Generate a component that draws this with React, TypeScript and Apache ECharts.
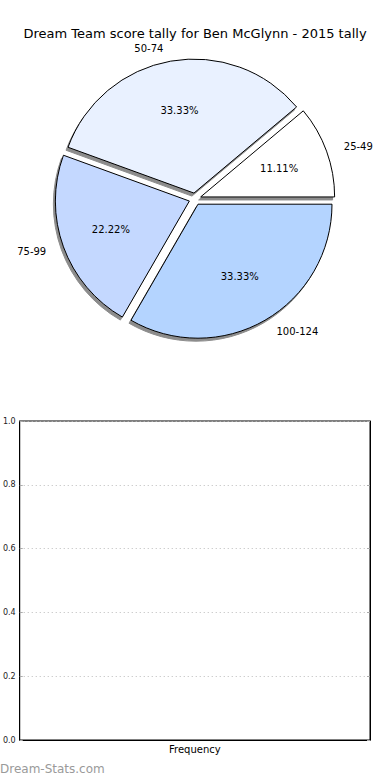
import React, { useEffect, useRef } from "react";
import * as echarts from "echarts";

const categories = ["25-49", "50-74", "75-99", "100-124"];
const counts = [1, 3, 2, 3];
const sliceColors = ["#ffffff", "#e9f1ff", "#c4d8ff", "#b4d4ff"];
const yTicks = [0, 0.2, 0.4, 0.6, 0.8, 1.0];
const titleText = "Dream Team score tally for Ben McGlynn - 2015 tally";
const xName = "Frequency";
const watermark = "Dream-Stats.com";

const FONT = "DejaVu Sans";

export default function App() {
  const ref = useRef<HTMLDivElement>(null);
  useEffect(() => {
    document.body.style.margin = "0";
    const chart = echarts.init(ref.current!, null, { renderer: "svg" });
    const total = counts.reduce((a, b) => a + b, 0);
    const pieData = categories.map((name, i) => ({
      name,
      value: counts[i],
      selected: true,
      itemStyle: { color: sliceColors[i] },
    }));
    const common = {
      type: "pie",
      center: [195, 199],
      startAngle: 0,
      clockwise: false,
      selectedMode: "multiple",
      selectedOffset: 6,
      avoidLabelOverlap: false,
      silent: true,
      emphasis: { disabled: true },
    };
    chart.setOption({
      animation: false,
      title: {
        text: titleText,
        left: "center",
        top: 22,
        textStyle: { fontFamily: FONT, fontSize: 13, fontWeight: "normal", color: "#000" },
      },
      grid: {
        left: 19,
        right: 20,
        top: 421,
        bottom: 40,
        show: true,
        borderColor: "#000",
        borderWidth: 1,
        backgroundColor: "transparent",
      },
      xAxis: {
        type: "value",
        min: 0,
        max: 1,
        name: xName,
        nameLocation: "middle",
        nameGap: 4,
        nameTextStyle: { fontFamily: FONT, fontSize: 10, color: "#000" },
        axisLine: { show: true, lineStyle: { color: "#000" } },
        axisTick: { show: false },
        axisLabel: { show: false },
        splitLine: { show: false },
      },
      yAxis: [
        {
          type: "value",
          min: 0,
          max: 1,
          interval: 0.2,
          axisLine: { show: true, lineStyle: { color: "#000" } },
          axisTick: { show: true, inside: true, length: 3, lineStyle: { color: "#aaa" } },
          axisLabel: {
            fontFamily: FONT,
            fontSize: 8,
            color: "#222",
            margin: 4,
            formatter: (v: number) => (yTicks.includes(Math.round(v * 10) / 10) ? v.toFixed(1) : ""),
          },
          splitLine: { show: true, lineStyle: { color: "#bbb", type: [1, 3], width: 1 } },
        },
        {
          type: "value",
          min: 0,
          max: 1,
          interval: 0.2,
          position: "right",
          axisLine: { show: true, lineStyle: { color: "#000" } },
          axisTick: { show: true, inside: true, length: 3, lineStyle: { color: "#aaa" } },
          axisLabel: { show: false },
          splitLine: { show: false },
        },
      ],
      graphic: [
        {
          type: "text",
          left: 0,
          top: 763,
          style: {
            text: watermark,
            fontFamily: FONT,
            fontSize: 12,
            fontWeight: "normal",
            fill: "#9a9a9a",
          },
        },
      ],
      series: [
        {
          type: "scatter",
          data: [],
          xAxisIndex: 0,
          yAxisIndex: 0,
        },
        {
          ...common,
          radius: [0, 134],
          label: {
            show: true,
            position: "outside",
            formatter: "{b}",
            fontFamily: FONT,
            fontSize: 10,
            color: "#000",
          },
          labelLine: { show: false, length: 13, length2: 0 },
          itemStyle: {
            borderColor: "#000",
            borderWidth: 1,
            shadowColor: "rgba(0,0,0,0.45)",
            shadowBlur: 1,
            shadowOffsetX: -2,
            shadowOffsetY: 3,
          },
          data: pieData,
          z: 2,
        },
        {
          ...common,
          radius: [0, 161],
          label: {
            show: true,
            position: "inside",
            formatter: (p: any) => ((p.value / total) * 100).toFixed(2) + "%",
            fontFamily: FONT,
            fontSize: 10,
            color: "#000",
          },
          labelLine: { show: false },
          itemStyle: { color: "transparent", borderWidth: 0 },
          data: categories.map((name, i) => ({ name, value: counts[i], selected: true })),
          z: 3,
        },
      ],
    });
    return () => chart.dispose();
  }, []);
  return <div ref={ref} style={{ width: 390, height: 780 }} />;
}
